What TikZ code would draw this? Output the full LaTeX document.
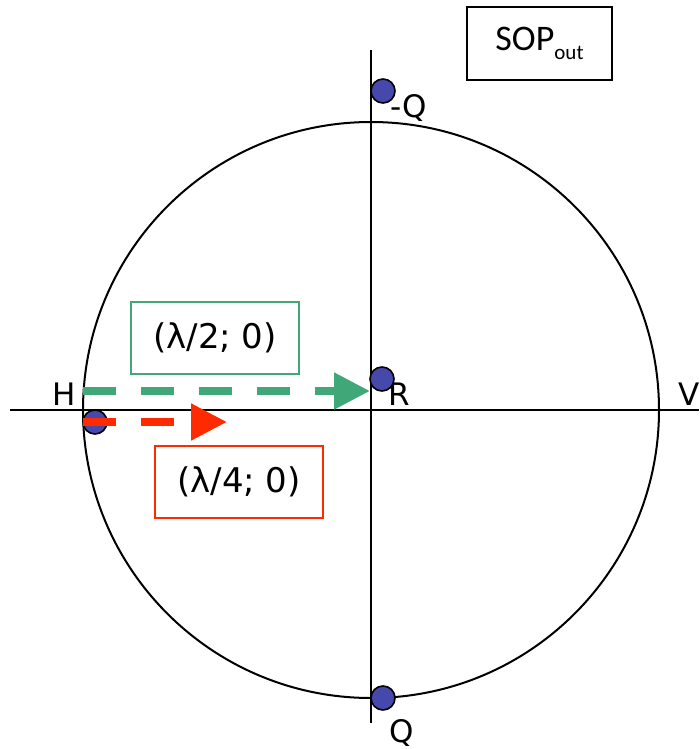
\documentclass[tikz,border=0pt]{standalone}
\usepackage{fontspec}
\setmainfont{DejaVu Sans}
\newfontfamily\calfont{Carlito}
\usetikzlibrary{arrows.meta}
\definecolor{dotblue}{RGB}{70,72,172}
\definecolor{pgreen}{RGB}{64,168,120}
\definecolor{pred}{RGB}{255,42,0}
\tikzset{
  pt/.style={circle,draw=black,line width=1.6pt,fill=dotblue,minimum size=24pt,inner sep=0pt},
  lbl/.style={font=\fontsize{31}{31}\selectfont,inner sep=0pt},
  gbox/.style={draw=pgreen,line width=1.2pt,minimum width=168pt,minimum height=72pt,font=\fontsize{34}{34}\selectfont},
  rbox/.style={draw=pred,line width=1.2pt,minimum width=168pt,minimum height=72pt,font=\fontsize{34}{34}\selectfont},
  darrow/.style={line width=8pt,dash pattern=on 33pt off 25pt,-{Triangle[length=36pt,width=35pt]}}
}
\begin{document}
\begin{tikzpicture}[x=1pt,y=-1pt]
\useasboundingbox[fill=white] (0,0) rectangle (699,749);
% circle and axes
\coordinate (c) at (371,410);
\draw[line width=2pt] (c) circle[radius=288];
\coordinate (xl) at (10,410);
\coordinate (xr) at (699,410);
\coordinate (yt) at (371,50);
\coordinate (yb) at (371,723);
\draw[line width=2pt] (xl) -- (xr);
\draw[line width=2pt] (yt) -- (yb);
% SOP box
\node[draw=black,line width=1.6pt,minimum width=145pt,minimum height=73pt,font=\calfont\fontsize{36}{36}\selectfont] (sop) at (539.5,43.5) {SOP\raisebox{-0.25em}{\fontsize{21}{21}\selectfont out}};
% dots
\node[pt] (dmQ) at (383,91) {};
\node[pt] (dQ) at (383,698) {};
\node[pt] (dH) at (95,422) {};
% labels
\node[lbl] (lmQ) at (409,108) {-Q};
\node[lbl] (lQ) at (402,733) {Q};
\node[lbl] (lH) at (64,394) {H};
\node[lbl] (lR) at (399,394) {R};
\node[lbl] (lV) at (689,394) {V};
% label boxes
\node[gbox] (gb) at (215,338) {(λ/2; 0)};
\node[rbox] (rb) at (239,482) {(λ/4; 0)};
% arrows
\coordinate (rs) at (83,422);
\coordinate (rt) at (227,422);
\draw[darrow,draw=pred] (rs) -- (rt);
\coordinate (gs) at (83,391);
\coordinate (gt) at (370,391);
\draw[darrow,draw=pgreen] (gs) -- (gt);
\node[pt] (dR) at (382,379) {};
\end{tikzpicture}
\end{document}
